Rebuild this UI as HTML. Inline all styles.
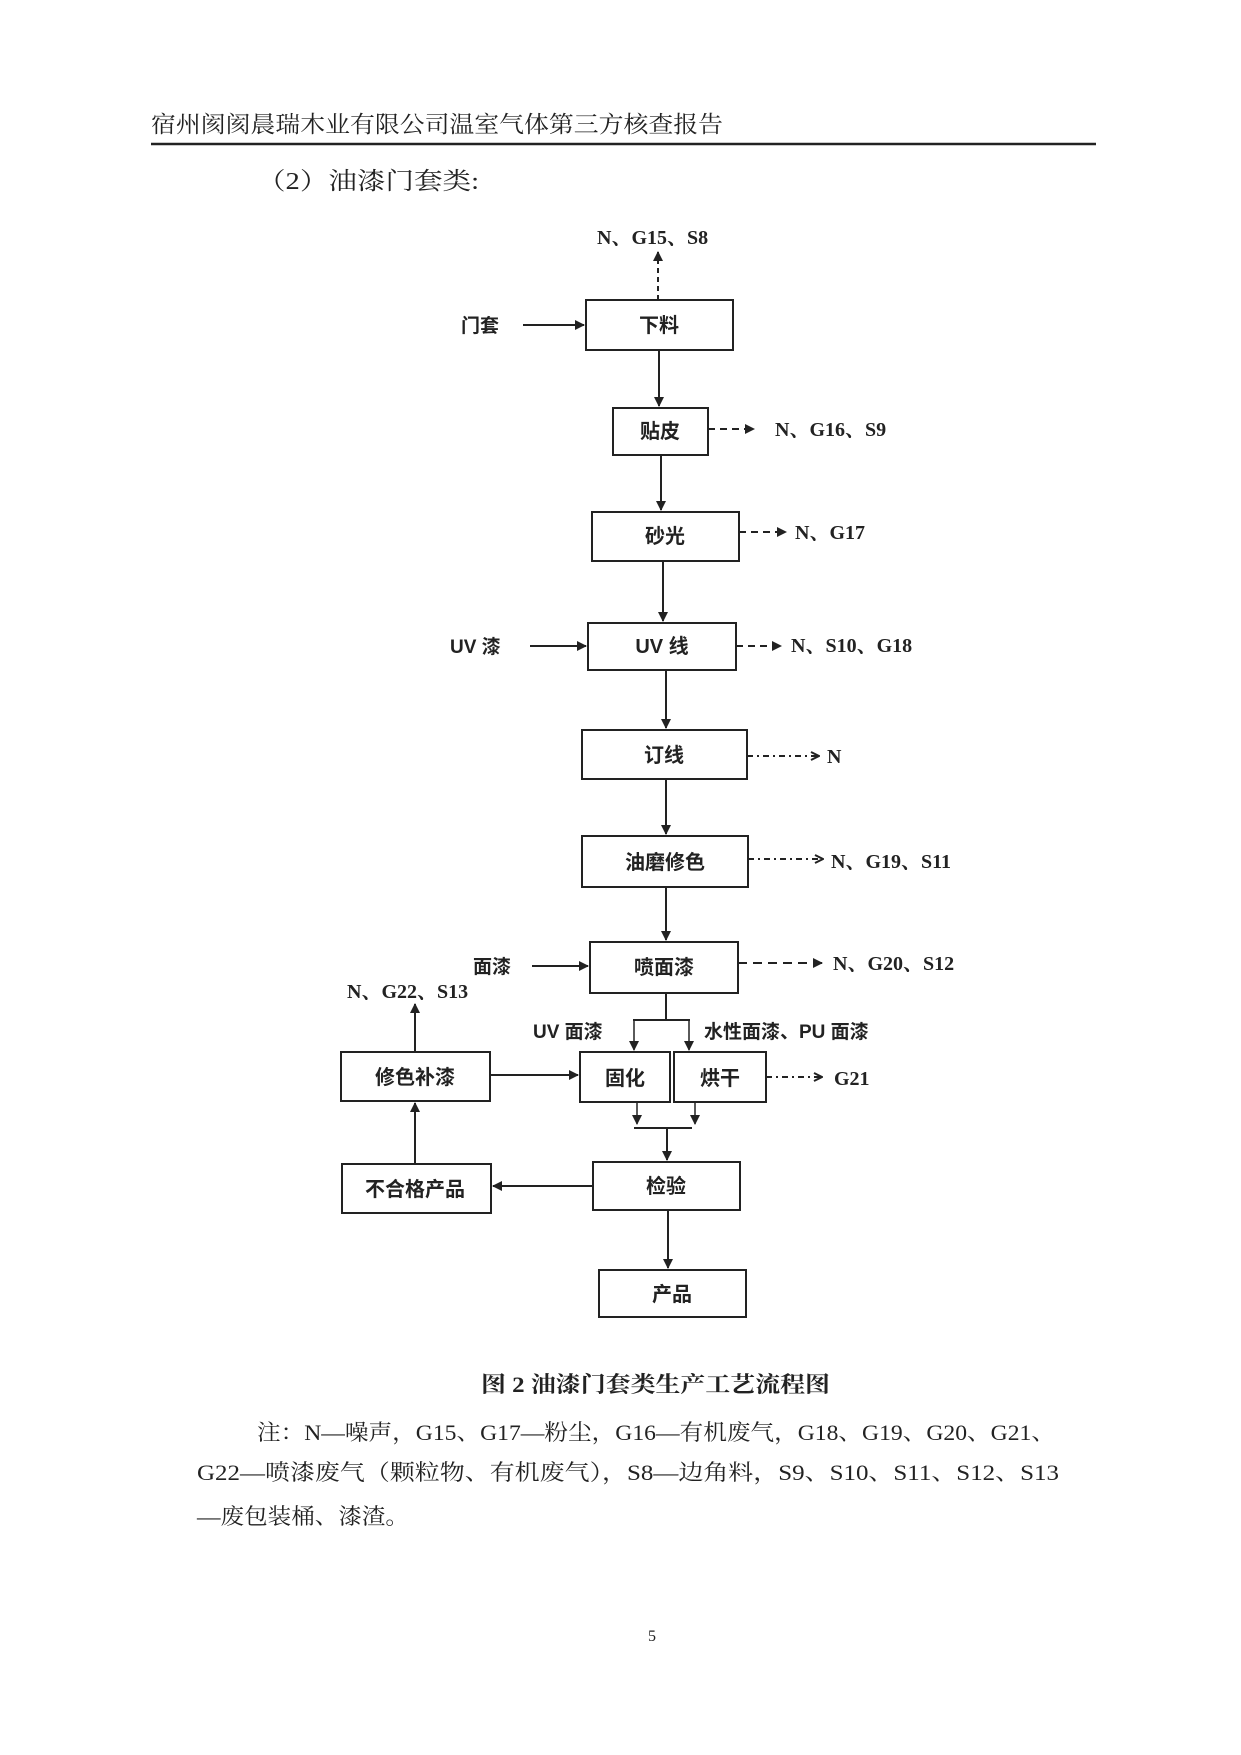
<!DOCTYPE html>
<html><head><meta charset="utf-8"><style>
html,body{margin:0;padding:0;background:#fff}
svg{display:block}
.s{font-family:"Liberation Serif","Noto Serif CJK SC",serif}
.h{font-family:"Liberation Sans","Noto Sans CJK SC",sans-serif}
.b{font-family:"Liberation Serif","Noto Serif CJK SC",serif;font-weight:bold}
</style></head><body>
<svg width="1241" height="1755" viewBox="0 0 1241 1755" xmlns="http://www.w3.org/2000/svg">
<defs>
<marker id="a" markerWidth="10" markerHeight="10" refX="9" refY="5" orient="auto" markerUnits="userSpaceOnUse"><path d="M0,0 L10,5 L0,10 z" fill="#222"/></marker>
<marker id="o" markerWidth="10" markerHeight="10" refX="9" refY="5" orient="auto" markerUnits="userSpaceOnUse"><path d="M1,1 L9,5 L1,9" fill="none" stroke="#222" stroke-width="2"/></marker>
</defs>
<rect width="1241" height="1755" fill="#fff"/>
<text x="151" y="132" class="s" font-size="23" fill="#222" textLength="572" lengthAdjust="spacingAndGlyphs">宿州阂阂晨瑞木业有限公司温室气体第三方核查报告</text>
<line x1="151" y1="144" x2="1096" y2="144" stroke="#222" stroke-width="2.5"/>
<text x="257" y="189" class="s" font-size="24" fill="#222" textLength="222" lengthAdjust="spacingAndGlyphs">（2）油漆门套类:</text>

<g stroke="#222" stroke-width="2" fill="none">
<rect x="586" y="300" width="147" height="50"/>
<rect x="613" y="408" width="95" height="47"/>
<rect x="592" y="512" width="147" height="49"/>
<rect x="588" y="623" width="148" height="47"/>
<rect x="582" y="730" width="165" height="49"/>
<rect x="582" y="836" width="166" height="51"/>
<rect x="590" y="942" width="148" height="51"/>
<rect x="341" y="1052" width="149" height="49"/>
<rect x="580" y="1052" width="90" height="50"/>
<rect x="674" y="1052" width="92" height="50"/>
<rect x="593" y="1162" width="147" height="48"/>
<rect x="342" y="1164" width="149" height="49"/>
<rect x="599" y="1270" width="147" height="47"/>
</g>

<g stroke="#222" stroke-width="2" fill="none">
<line x1="658" y1="300" x2="658" y2="252" stroke-dasharray="5,4" marker-end="url(#a)"/>
<line x1="523" y1="325" x2="584" y2="325" marker-end="url(#a)"/>
<line x1="659" y1="350" x2="659" y2="406" marker-end="url(#a)"/>
<line x1="708" y1="429" x2="754" y2="429" stroke-dasharray="7,5" marker-end="url(#a)"/>
<line x1="661" y1="455" x2="661" y2="510" marker-end="url(#a)"/>
<line x1="739" y1="532" x2="786" y2="532" stroke-dasharray="7,5" marker-end="url(#a)"/>
<line x1="663" y1="561" x2="663" y2="621" marker-end="url(#a)"/>
<line x1="530" y1="646" x2="586" y2="646" marker-end="url(#a)"/>
<line x1="736" y1="646" x2="781" y2="646" stroke-dasharray="7,5" marker-end="url(#a)"/>
<line x1="666" y1="670" x2="666" y2="728" marker-end="url(#a)"/>
<line x1="747" y1="756" x2="819" y2="756" stroke-dasharray="6,4,2,4" marker-end="url(#o)"/>
<line x1="666" y1="779" x2="666" y2="834" marker-end="url(#a)"/>
<line x1="748" y1="859" x2="823" y2="859" stroke-dasharray="6,4,2,4" marker-end="url(#o)"/>
<line x1="666" y1="887" x2="666" y2="940" marker-end="url(#a)"/>
<line x1="532" y1="966" x2="588" y2="966" marker-end="url(#a)"/>
<line x1="738" y1="963" x2="822" y2="963" stroke-dasharray="9,6" marker-end="url(#a)"/>
<line x1="666" y1="993" x2="666" y2="1020"/>
<line x1="633" y1="1020" x2="690" y2="1020"/>
<line x1="634" y1="1020" x2="634" y2="1050" stroke-width="1.5" marker-end="url(#a)"/>
<line x1="689" y1="1020" x2="689" y2="1050" stroke-width="1.5" marker-end="url(#a)"/>
<line x1="490" y1="1075" x2="578" y2="1075" marker-end="url(#a)"/>
<line x1="766" y1="1077" x2="822" y2="1077" stroke-dasharray="6,4,2,4" marker-end="url(#o)"/>
<line x1="415" y1="1052" x2="415" y2="1004" marker-end="url(#a)"/>
<line x1="637" y1="1102" x2="637" y2="1124" stroke-width="1.5" marker-end="url(#a)"/>
<line x1="695" y1="1102" x2="695" y2="1124" stroke-width="1.5" marker-end="url(#a)"/>
<line x1="634" y1="1128" x2="692" y2="1128"/>
<line x1="667" y1="1128" x2="667" y2="1160" marker-end="url(#a)"/>
<line x1="593" y1="1186" x2="493" y2="1186" marker-end="url(#a)"/>
<line x1="415" y1="1164" x2="415" y2="1103" marker-end="url(#a)"/>
<line x1="668" y1="1210" x2="668" y2="1268" marker-end="url(#a)"/>
</g>

<g class="h" font-size="20" fill="#222" font-weight="bold" text-anchor="middle">
<text x="659" y="332">下料</text>
<text x="660" y="438">贴皮</text>
<text x="665" y="543">砂光</text>
<text x="662" y="653">UV 线</text>
<text x="664" y="762">订线</text>
<text x="665" y="869">油磨修色</text>
<text x="664" y="974">喷面漆</text>
<text x="415" y="1084">修色补漆</text>
<text x="625" y="1085">固化</text>
<text x="720" y="1085">烘干</text>
<text x="666" y="1193">检验</text>
<text x="415" y="1196">不合格产品</text>
<text x="672" y="1301">产品</text>
</g>
<g class="h" font-size="19" fill="#222" font-weight="bold">
<text x="461" y="332">门套</text>
<text x="450" y="653">UV 漆</text>
<text x="473" y="973">面漆</text>
<text x="533" y="1038">UV 面漆</text>
<text x="704" y="1038">水性面漆、PU 面漆</text>
</g>
<g class="b" font-size="20" fill="#222">
<text x="597" y="244">N、G15、S8</text>
<text x="775" y="436">N、G16、S9</text>
<text x="795" y="539">N、G17</text>
<text x="791" y="652">N、S10、G18</text>
<text x="827" y="763">N</text>
<text x="831" y="868">N、G19、S11</text>
<text x="833" y="970">N、G20、S12</text>
<text x="347" y="998">N、G22、S13</text>
<text x="834" y="1085">G21</text>
</g>

<text x="481" y="1392" class="b" font-size="22" fill="#222" textLength="349" lengthAdjust="spacingAndGlyphs">图 2 油漆门套类生产工艺流程图</text>
<g class="s" font-size="22" fill="#222">
<text x="257" y="1440" textLength="798" lengthAdjust="spacingAndGlyphs">注：N—噪声，G15、G17—粉尘，G16—有机废气，G18、G19、G20、G21、</text>
<text x="197" y="1480" textLength="862" lengthAdjust="spacingAndGlyphs">G22—喷漆废气（颗粒物、有机废气），S8—边角料，S9、S10、S11、S12、S13</text>
<text x="197" y="1524" textLength="212" lengthAdjust="spacingAndGlyphs">—废包装桶、漆渣。</text>
</g>
<text x="648" y="1641" class="s" font-size="16" fill="#222">5</text>
</svg>
</body></html>
